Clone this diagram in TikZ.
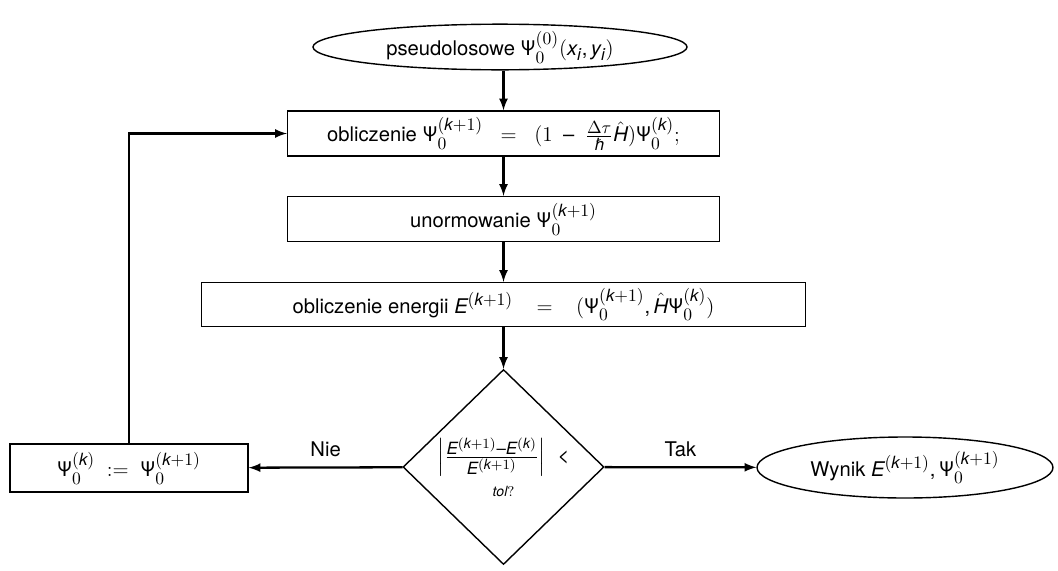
\documentclass[tikz,border=0pt]{standalone}
\usepackage{fontspec}
\setmainfont{TeX Gyre Heros}
\usepackage[italic]{mathastext}
\usepackage{amsmath}
\usetikzlibrary{shapes.geometric}

\newcommand{\Psis}{\text{\upshape Ψ}}

\tikzset{
  every node/.style={font=\fontsize{11.5pt}{14pt}\selectfont},
  krok/.style={draw, line width=0.8pt, minimum width=8.64cm, minimum height=0.9cm},
  owal/.style={draw, ellipse, line width=0.8pt, inner sep=0pt},
  decyzja/.style={draw, diamond, line width=0.8pt, inner sep=0pt, minimum width=4.02cm, minimum height=3.9cm, align=center},
  strz/.style={line width=1.3pt, -latex}
}

\begin{document}
\begin{tikzpicture}
\useasboundingbox (0,0) rectangle (21.16,-11.4);
\node[owal, minimum width=7.48cm, minimum height=0.76cm] (start) at (10.0,-0.94) {pseudolosowe $\Psis_0^{(0)}(x_i,y_i)$};
\node[krok] (oblicz) at (10.07,-2.67) {obliczenie $\Psis_0^{(k+1)}\;\;=\;\;(1\;-\;\frac{\Delta\tau}{\hbar}\hat{H})\Psis_0^{(k)};$};
\node[krok] (norm) at (10.07,-4.38) {unormowanie $\Psis_0^{(k+1)}$};
\node[krok, minimum width=12.08cm, minimum height=0.86cm] (energia) at (10.07,-6.09) {obliczenie energii $E^{(k+1)}\;\;\;=\;\;\;(\Psis_0^{(k+1)},\hat{H}\Psis_0^{(k)})$};
\node[decyzja] (warunek) at (10.07,-9.34) {$\left|\frac{E^{(k+1)}-E^{(k)}}{E^{(k+1)}}\right|\;<$\\[5pt] {\footnotesize $tol?$}};
\node[krok, minimum width=4.76cm, minimum height=0.96cm] (podstaw) at (2.58,-9.36) {$\Psis_0^{(k)}\;:=\;\Psis_0^{(k+1)}$};
\node[owal, minimum width=5.92cm, minimum height=1.22cm] (wynik) at (18.1,-9.35) {Wynik $E^{(k+1)},\Psis_0^{(k+1)}$};

\draw[strz] (start.south -| oblicz.north) -- (oblicz);
\draw[strz] (oblicz) -- (norm);
\draw[strz] (norm) -- (energia);
\draw[strz] (energia) -- (warunek);
\draw[strz] (warunek) -- node[above=2pt] {Nie} (podstaw);
\draw[strz] (warunek) -- node[above=2pt] {Tak} (wynik);
\draw[strz] (podstaw.north) |- (oblicz.west);

\end{tikzpicture}
\end{document}
